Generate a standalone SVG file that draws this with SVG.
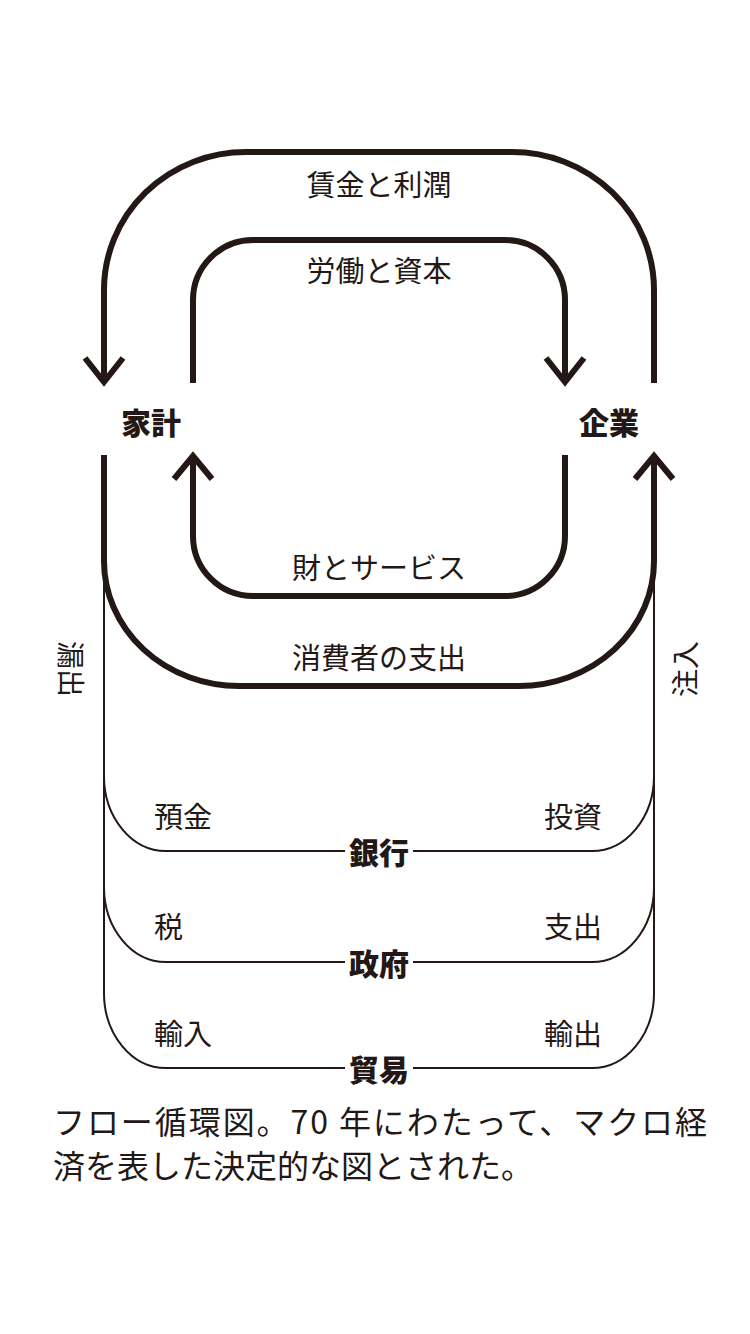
<svg xmlns="http://www.w3.org/2000/svg" width="750" height="1334" viewBox="0 0 750 1334">
<style>
.thick{fill:none;stroke:#231815;stroke-width:6;stroke-linecap:butt;stroke-linejoin:miter}
.thin{fill:none;stroke:#231815;stroke-width:2}
.lbl{font-family:"Noto Sans CJK JP","Noto Sans CJK SC",sans-serif;font-size:29px;fill:#231815;dominant-baseline:central}
.node{font-family:"Noto Sans CJK JP","Noto Sans CJK SC",sans-serif;font-size:30px;font-weight:900;fill:#231815;dominant-baseline:central;text-anchor:middle}
.mid{text-anchor:middle}
.end{text-anchor:end}
.cap{font-family:"Noto Sans CJK JP","Noto Sans CJK SC",sans-serif;font-size:32px;fill:#231815;dominant-baseline:central}
</style>
<rect width="750" height="1334" fill="#ffffff"/>
<g id="connectors">
  <path class="thick" d="M654,383 V290 A142,138 0 0 0 512,152 H246 A142,138 0 0 0 104,290 V382"/>
  <path class="thick" d="M85,358 L104,382 L123,358"/>
  <path class="thick" d="M193,383 V300 A60,60 0 0 1 253,240 H505 A60,60 0 0 1 565,300 V382"/>
  <path class="thick" d="M546,358 L565,382 L584,358"/>
  <path class="thick" d="M565,455 V536 A60,60 0 0 1 505,596 H253 A60,60 0 0 1 193,536 V456"/>
  <path class="thick" d="M174,479 L193,456 L212,479"/>
  <path class="thick" d="M104,455 V561 A135,125 0 0 0 239,686 H519 A135,125 0 0 0 654,561 V456"/>
  <path class="thick" d="M635,479 L654,456 L673,479"/>
  <path class="thin" d="M104,561 V776 A62,75 0 0 0 166,851 H345 M413,851 H592 A62,75 0 0 0 654,776 V561"/>
  <path class="thin" d="M104,561 V887 A62,75 0 0 0 166,962 H345 M413,962 H592 A62,75 0 0 0 654,887 V561"/>
  <path class="thin" d="M104,561 V993 A62,75 0 0 0 166,1068 H345 M413,1068 H592 A62,75 0 0 0 654,993 V561"/>
  <text class="lbl mid" x="379" y="183">賃金と利潤</text>
  <text class="lbl mid" x="379" y="269">労働と資本</text>
  <text class="lbl mid" x="379" y="566">財とサービス</text>
  <text class="lbl mid" x="379" y="656">消費者の支出</text>
  <text class="lbl" x="154" y="815">預金</text>
  <text class="lbl end" x="602" y="815">投資</text>
  <text class="lbl" x="154" y="925">税</text>
  <text class="lbl end" x="602" y="925">支出</text>
  <text class="lbl" x="154" y="1032">輸入</text>
  <text class="lbl end" x="602" y="1032">輸出</text>
  <text class="lbl mid" style="font-size:28px" transform="translate(72,669) rotate(90)">漏出</text>
  <text class="lbl mid" style="font-size:28px" transform="translate(684,669) rotate(-90)">注入</text>
</g>
<g id="households"><text class="node" x="151" y="421">家計</text></g>
<g id="firms"><text class="node" x="609" y="421">企業</text></g>
<g id="banks"><text class="node" x="379" y="851">銀行</text></g>
<g id="government"><text class="node" x="379" y="962">政府</text></g>
<g id="trade"><text class="node" x="379" y="1068">貿易</text></g>
<g id="caption">
  <text class="cap" x="53" y="1120" textLength="654" lengthAdjust="spacing">フロー循環図。70 年にわたって、マクロ経</text>
  <text class="cap" x="53" y="1164">済を表した決定的な図とされた。</text>
</g>
</svg>
